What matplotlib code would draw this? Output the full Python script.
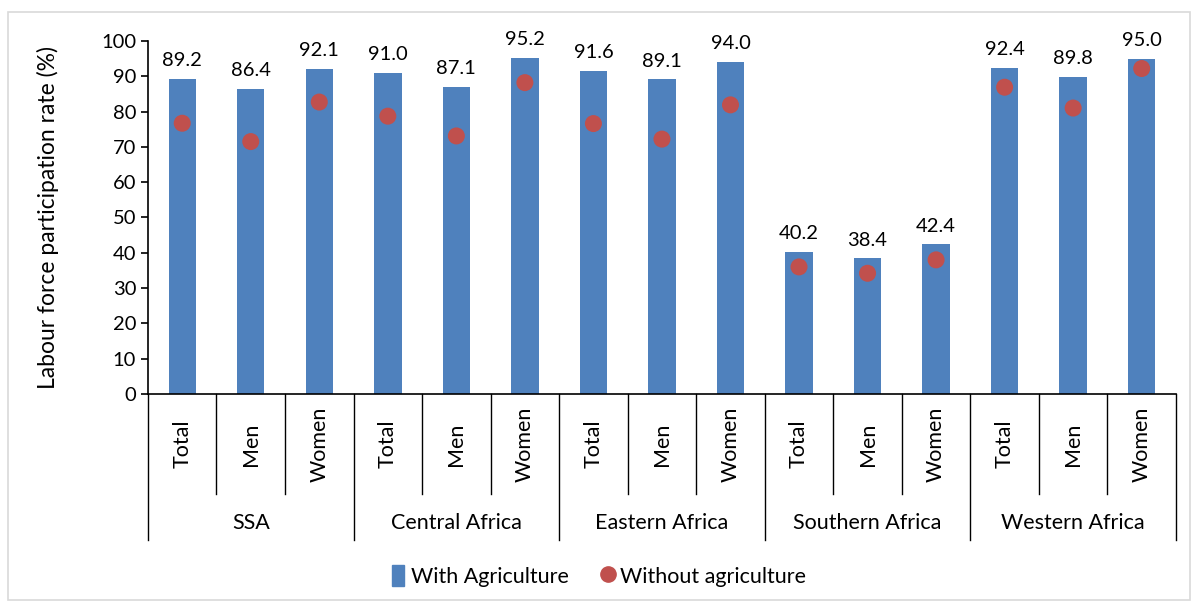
import matplotlib
matplotlib.use("Agg")
import matplotlib.pyplot as plt
import matplotlib.transforms as mtransforms
from matplotlib.patches import Rectangle
from matplotlib.lines import Line2D

# Data
regions = ["SSA", "Central Africa", "Eastern Africa", "Southern Africa", "Western Africa"]
groups = ["Total", "Men", "Women"]
with_agri = [89.2, 86.4, 92.1, 91.0, 87.1, 95.2, 91.6, 89.1, 94.0,
             40.2, 38.4, 42.4, 92.4, 89.8, 95.0]
without_agri = [76.7, 71.5, 82.7, 78.7, 73.1, 88.2, 76.6, 72.2, 81.9,
                36.0, 34.2, 38.0, 86.9, 81.0, 92.2]

blue = "#4F81BD"
red = "#C0504D"
plt.rcParams["font.family"] = ["Lato", "DejaVu Sans"]

fig = plt.figure(figsize=(11.98, 6.07), dpi=100)
ax = fig.add_axes([0.1235, 0.3509, 0.8581, 0.5816])

# figure border like the spreadsheet chart area
fig.patches.append(Rectangle((0.007, 0.012), 0.986, 0.968, transform=fig.transFigure,
                             fill=False, edgecolor="#d9d9d9", linewidth=1.2))

x = list(range(len(with_agri)))
ax.bar(x, with_agri, width=0.4, color=blue, zorder=2)
ax.scatter(x, without_agri, s=150, color=red, zorder=3, edgecolors="none")

for xi, v in zip(x, with_agri):
    ax.annotate(f"{v:.1f}", (xi, v), xytext=(0, 7), textcoords="offset points",
                ha="center", va="bottom", fontsize=14.5)

ax.set_xlim(-0.5, len(x) - 0.5)
ax.set_ylim(0, 100)
ax.set_yticks(range(0, 101, 10))
ax.tick_params(axis="y", labelsize=14.5, direction="out", length=5, width=1.2)
ax.set_xticks([])
ax.spines["top"].set_visible(False)
ax.spines["right"].set_visible(False)
ax.spines["left"].set_linewidth(1.2)
ax.spines["bottom"].set_linewidth(1.2)
ax.set_ylabel("Labour force participation rate (%)", fontsize=16.5, labelpad=30)

# multi-level category axis
trans = mtransforms.blended_transform_factory(ax.transData, ax.transAxes)
n_sub = len(groups)
for i in range(len(x) + 1):
    b = i - 0.5
    y_end = -0.414 if i % n_sub == 0 else -0.283
    ax.plot([b, b], [0, y_end], color="black", linewidth=1, transform=trans, clip_on=False)

for i, xi in enumerate(x):
    ax.text(xi, -0.142, groups[i % n_sub], rotation=90, ha="center", va="center",
            fontsize=15.5, transform=trans)

for g, name in enumerate(regions):
    center = g * n_sub + (n_sub - 1) / 2
    ax.text(center, -0.365, name, ha="center", va="center", fontsize=15.5, transform=trans)

handles = [Rectangle((0, 0), 1, 1, color=blue),
           Line2D([], [], marker="o", linestyle="none", color=red, markersize=11)]
fig.legend(handles, ["With Agriculture", "Without agriculture"], loc="center",
           bbox_to_anchor=(0.5, 0.051), ncol=2, frameon=False, fontsize=15.5,
           handlelength=0.6, handleheight=1.1, handletextpad=0.3, columnspacing=1.5)

fig.savefig("out.png", dpi=100)
